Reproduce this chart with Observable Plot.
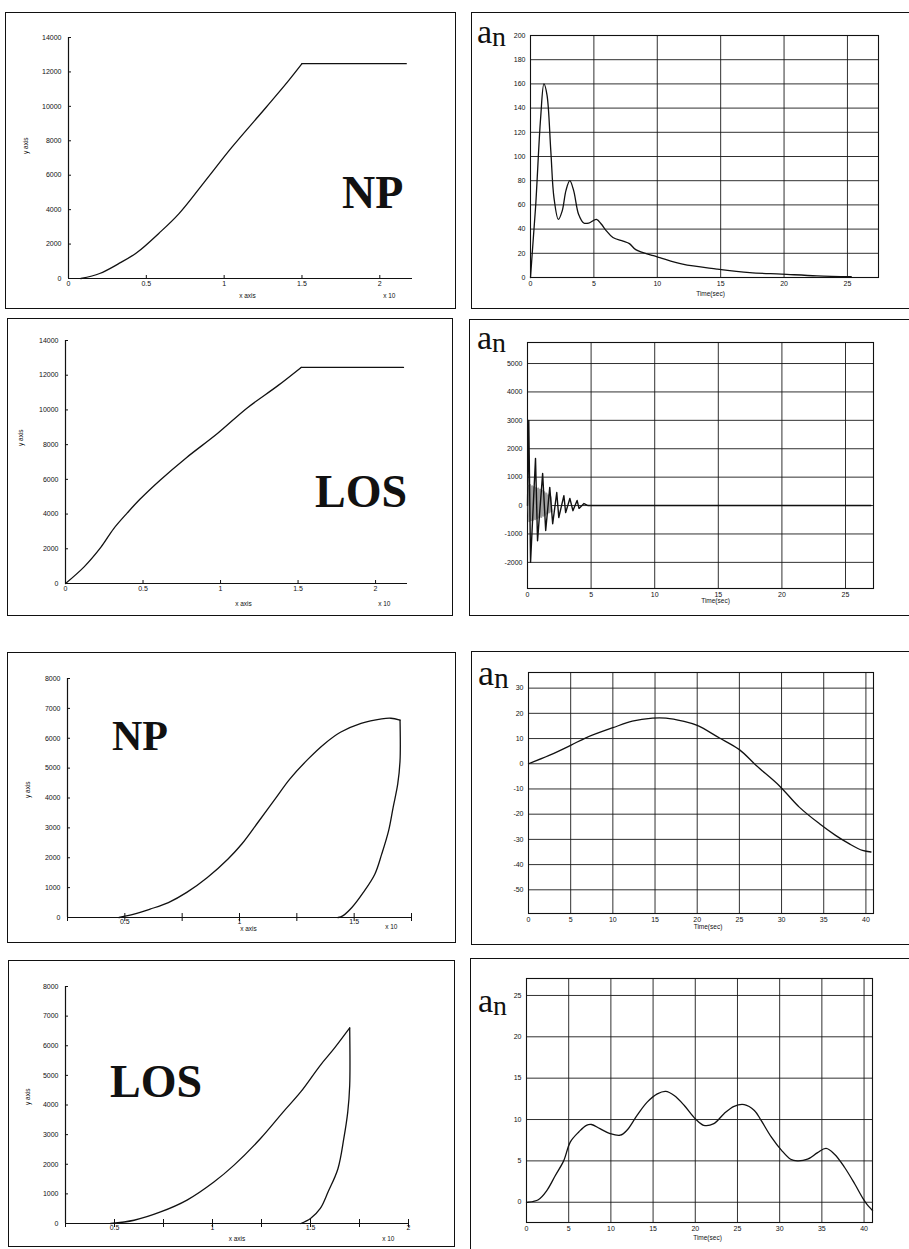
<!DOCTYPE html>
<html><head><meta charset="utf-8">
<script src="https://cdn.jsdelivr.net/npm/d3@7"></script>
<script src="https://cdn.jsdelivr.net/npm/@observablehq/plot@0.6"></script>
<style>
html,body{margin:0;padding:0;background:#fff;overflow:hidden;}
#page{position:relative;width:909px;height:1249px;overflow:hidden;background:#fff;}
.box{position:absolute;border:1.4px solid #111;box-sizing:border-box;pointer-events:none;}
.plot{position:absolute;}
.big{position:absolute;font-family:"Liberation Serif","Times New Roman",serif;font-weight:bold;color:#111;line-height:1;white-space:nowrap;}
.an{position:absolute;font-family:"Liberation Serif","Times New Roman",serif;color:#111;line-height:1;white-space:nowrap;}
.an span{font-size:0.82em;position:relative;top:3px;}
</style></head><body><div id="page"></div>
<script>
// ---------- Data ----------
// Panel 1: NP trajectory (x in 1e4, y) — climb, then level flight
const np1X = [0.08, 0.2, 0.32, 0.44, 0.58, 0.71, 0.88, 1.05, 1.27, 1.41, 1.50];
const np1Y = [0, 290, 850, 1510, 2620, 3770, 5690, 7630, 9950, 11450, 12480];
const np1LevelX = [1.50, 2.17];
const np1LevelY = [12480, 12480];
// Panel 3: LOS trajectory
const los1X = [0, 0.12, 0.23, 0.31, 0.40, 0.48, 0.61, 0.78, 0.98, 1.17, 1.37, 1.52];
const los1Y = [0, 960, 2110, 3150, 4080, 4850, 5950, 7250, 8640, 10100, 11400, 12450];
const los1LevelX = [1.52, 2.18];
const los1LevelY = [12450, 12450];
const trajYTicks = [0, 2000, 4000, 6000, 8000, 10000, 12000, 14000];
const trajXTicks = [0, 0.5, 1, 1.5, 2];
const trajXLabels = ["0", "0.5", "1", "1.5", "2"];

// Panel 2: NP normal acceleration vs time
const an1T = [0, 0.13, 0.4, 0.8, 1.06, 1.3, 1.6, 1.85, 2.2, 2.5, 2.8, 3.1, 3.4, 3.8, 4.2, 4.6, 5.2, 5.6, 5.95, 6.5, 7.3, 7.8, 8.3, 9.7, 10.2, 12, 14.7, 17.3, 19.8, 22.6, 25.3];
const an1V = [0, 19, 58, 132, 160, 151, 105, 66, 48, 55, 72, 80, 72, 52, 45, 45, 48, 44, 39, 33, 30, 28, 23, 18, 16.5, 11, 7, 4, 2.8, 1.4, 0.6];
const an1YTicks = [0, 20, 40, 60, 80, 100, 120, 140, 160, 180, 200];
const timeXTicks25 = [0, 5, 10, 15, 20, 25];

// Panel 4: LOS normal acceleration vs time
const an2T = [0, 0.1, 0.24, 0.63, 0.79, 1.19, 1.43, 1.75, 1.98, 2.3, 2.46, 2.86, 3.0, 3.33, 3.57, 3.9, 4.05, 4.44, 4.76, 27];
const an2V = [0, 3000, -2000, 1660, -1240, 1130, -880, 640, -640, 460, -420, 350, -250, 250, -180, 180, -100, 70, 0, 0];
const an2GreyT = [0.05, 0.13, 0.21, 0.29, 0.37, 0.45, 0.53, 0.61, 0.69, 0.77, 0.85, 0.93, 1.01, 1.09, 1.17, 1.25, 1.33, 1.41, 1.49, 1.57, 1.65, 1.73, 1.81, 1.89];
const an2GreyV = [700, -550, 720, -520, 680, -500, 650, -480, 620, -450, 600, -420, 560, -400, 520, -360, 470, -320, 420, -280, 360, -240, 300, -200];
const an2YTicks = [-2000, -1000, 0, 1000, 2000, 3000, 4000, 5000];

// Panel 5: NP loop trajectory
const np2ClimbX = [0.475, 0.54, 0.61, 0.69, 0.77, 0.86, 0.95, 1.01, 1.08, 1.15, 1.22, 1.30, 1.37, 1.44, 1.53, 1.62, 1.66, 1.70];
const np2ClimbY = [0, 110, 280, 500, 840, 1340, 1960, 2460, 3180, 3910, 4640, 5310, 5810, 6200, 6500, 6650, 6670, 6610];
const np2ReturnX = [1.70, 1.70, 1.69, 1.67, 1.65, 1.62, 1.59, 1.54, 1.49, 1.45, 1.43];
const np2ReturnY = [6610, 5250, 4470, 3690, 2900, 2120, 1450, 840, 335, 56, 0];
const np2XTicks = [0.25, 0.5, 0.75, 1, 1.25, 1.5, 1.75];
const np2XLabels = ["", "0.5", "", "1", "", "1.5", ""];

// Panel 7: LOS loop trajectory
const los2ClimbX = [0.48, 0.60, 0.735, 0.87, 1.007, 1.11, 1.245, 1.36, 1.45, 1.55, 1.62, 1.70];
const los2ClimbY = [0, 110, 390, 790, 1400, 1970, 2870, 3760, 4440, 5340, 5900, 6600];
const los2ReturnX = [1.70, 1.70, 1.69, 1.67, 1.64, 1.59, 1.55, 1.50, 1.45];
const los2ReturnY = [6600, 4660, 3760, 2870, 1850, 1070, 510, 170, 0];
const los2XTicks = [0.25, 0.5, 0.75, 1, 1.25, 1.5, 1.75, 2];
const los2XLabels = ["", "0.5", "", "1", "", "1.5", "", "2"];
const loopYTicks = [0, 1000, 2000, 3000, 4000, 5000, 6000, 7000, 8000];

// Panel 6: NP normal acceleration (second case)
const an3T = [0, 2.45, 5, 6.8, 10, 12.3, 14.7, 16.3, 18.3, 20, 22.6, 25, 27, 29.7, 32.1, 34.5, 36.4, 38, 39.6, 40.6];
const an3V = [0, 3.3, 7.3, 10.3, 14.3, 16.9, 18.1, 18.1, 16.9, 15.2, 10.3, 5.6, -0.7, -8.6, -17.2, -23.8, -28.4, -31.7, -34.4, -35];
const an3YTicks = [-50, -40, -30, -20, -10, 0, 10, 20, 30];
const timeXTicks40 = [0, 5, 10, 15, 20, 25, 30, 35, 40];

// Panel 8: LOS normal acceleration (second case)
const an4T = [0, 0.2, 1.4, 2.4, 3.4, 4.4, 5.2, 6.2, 7.1, 7.7, 8.7, 9.9, 11.1, 11.9, 13.1, 14.3, 15.5, 16.5, 17.5, 18.7, 20, 21, 22.2, 23.4, 24.6, 25.8, 27, 27.8, 29, 30.2, 31.3, 32.1, 33.3, 34.5, 35.5, 36.5, 37.7, 38.9, 39.9, 40.3, 41];
const an4V = [0, 0, 0.3, 1.4, 3.2, 5.0, 7.3, 8.5, 9.3, 9.4, 8.9, 8.3, 8.1, 8.7, 10.5, 12.1, 13.1, 13.4, 12.9, 11.7, 10.1, 9.3, 9.5, 10.7, 11.6, 11.8, 11.1, 9.9, 7.9, 6.3, 5.2, 5.0, 5.2, 6.0, 6.5, 5.8, 4.2, 2.2, 0.4, -0.2, -1.0];
const an4YTicks = [0, 5, 10, 15, 20, 25];

const xAxisTitle = "x axis", yAxisTitle = "y axis", scaleNote = "x 10", timeTitle = "Time(sec)";

// ---------- Helpers ----------
const page = document.getElementById("page");
const rows = (xs, ys) => xs.map((x, i) => ({x, y: ys[i]}));
const labelFmt = (ticks, labels) => d => labels[ticks.indexOf(d)] ?? "";
const INK = "#111";
const FONT = "'Liberation Sans', Arial, sans-serif";

function addPanel(box, m, xDomain, yDomain, marks) {
  const fig = Plot.plot({
    width: box.w, height: box.h,
    marginTop: m[0], marginRight: m[1], marginBottom: m[2], marginLeft: m[3],
    x: {domain: xDomain}, y: {domain: yDomain},
    style: {fontFamily: FONT, fontSize: "7px", color: INK, background: "transparent", overflow: "visible"},
    marks
  });
  fig.classList.add("plot");
  fig.style.left = box.l + "px"; fig.style.top = box.t + "px";
  page.appendChild(fig);
  const b = document.createElement("div");
  b.className = "box";
  Object.assign(b.style, {left: box.l + "px", top: box.t + "px", width: box.w + "px", height: box.h + "px"});
  page.appendChild(b);
}
function addText(cls, html, left, top, size) {
  const d = document.createElement("div");
  d.className = cls; d.innerHTML = html;
  Object.assign(d.style, {left: left + "px", top: top + "px", fontSize: size + "px"});
  page.appendChild(d);
}

function trajMarks(xDomain, yTicks, xTicks, xFmt, crossTicks, t) {
  const ms = [
    Plot.ruleX([xDomain[0]], {stroke: INK, strokeWidth: 1.2}),
    Plot.ruleY([0], {stroke: INK, strokeWidth: 1.2}),
    Plot.axisY(yTicks, {tickSize: -3, tickPadding: 10, tickFormat: String, label: null, stroke: INK}),
    Plot.axisX(xTicks, {tickSize: crossTicks ? 4 : -3, tickPadding: crossTicks ? -2 : 6, tickFormat: xFmt, label: null, stroke: INK})
  ];
  if (crossTicks) ms.push(Plot.axisX(xTicks, {tickSize: -4, tickFormat: () => "", label: null, stroke: INK}));
  ms.push(
    Plot.text([xAxisTitle], {frameAnchor: "bottom", dx: t.xa[0], dy: t.xa[1], text: d => d, fontSize: 6.5, fill: INK}),
    Plot.text([scaleNote], {frameAnchor: "bottom-right", dx: t.sn[0], dy: t.sn[1], text: d => d, fontSize: 6.5, fill: INK}),
    Plot.text([yAxisTitle], {frameAnchor: "left", dx: t.ya[0], dy: t.ya[1], rotate: -90, text: d => d, fontSize: 6.5, fill: INK})
  );
  return ms;
}
function gridMarks(xTicks, yTicks, tt) {
  return [
    Plot.ruleX(xTicks, {stroke: "#1a1a1a", strokeWidth: 0.9}),
    Plot.ruleY(yTicks, {stroke: "#1a1a1a", strokeWidth: 0.9}),
    Plot.frame({stroke: INK, strokeWidth: 1.1}),
    Plot.axisY(yTicks, {tickSize: 0, tickPadding: 5, tickFormat: String, label: null}),
    Plot.axisX(xTicks, {tickSize: 0, tickPadding: 4, tickFormat: String, label: null}),
    Plot.text([timeTitle], {frameAnchor: "bottom", dx: tt[0], dy: tt[1], text: d => d, fontSize: 6.5, fill: INK})
  ];
}
const lineStyle = {x: "x", y: "y", stroke: INK, strokeWidth: 1.3};
const smooth = {...lineStyle, curve: "catmull-rom"};

// ---------- Panel 1 ----------
addPanel({l: 5, t: 12, w: 451, h: 297}, [25, 44, 31, 63], [0, 2.21], [0, 14000], [
  ...trajMarks([0, 2.21], trajYTicks, trajXTicks, labelFmt(trajXTicks, trajXLabels), false,
    {xa: [7, 19], sn: [-17, 19], ya: [-43, -4]}),
  Plot.line(rows(np1X, np1Y), smooth),
  Plot.line(rows(np1LevelX, np1LevelY), lineStyle)
]);
// ---------- Panel 2 ----------
addPanel({l: 471, t: 12, w: 445, h: 297}, [23, 38, 32, 59], [0, 27.45], [0, 200], [
  ...gridMarks(timeXTicks25, an1YTicks, [6, 18]),
  Plot.line(rows(an1T, an1V), smooth)
]);
// ---------- Panel 3 ----------
addPanel({l: 7, t: 318, w: 446, h: 298}, [22, 46, 33, 58], [0, 2.206], [0, 14000], [
  ...trajMarks([0, 2.206], trajYTicks, trajXTicks, labelFmt(trajXTicks, trajXLabels), false,
    {xa: [7, 22], sn: [-17, 22], ya: [-45, -16]}),
  Plot.line(rows(los1X, los1Y), smooth),
  Plot.line(rows(los1LevelX, los1LevelY), lineStyle)
]);
// ---------- Panel 4 ----------
addPanel({l: 469, t: 319, w: 447, h: 297}, [23, 43, 28, 58], [0, 27.2], [-2920, 5740], [
  ...gridMarks(timeXTicks25, an2YTicks, [15, 14]),
  Plot.line(rows(an2GreyT, an2GreyV), {x: "x", y: "y", stroke: "#a0a0a0", strokeWidth: 2}),
  Plot.line(rows(an2T, an2V), {...lineStyle, strokeWidth: 1.4})
]);
// ---------- Panel 5 ----------
addPanel({l: 7, t: 652, w: 449, h: 291}, [26, 45, 26, 60], [0.25, 1.75], [0, 8000], [
  ...trajMarks([0.25, 1.75], loopYTicks, np2XTicks, labelFmt(np2XTicks, np2XLabels), true,
    {xa: [9, 13], sn: [-14, 11], ya: [-40, 0]}),
  Plot.line(rows(np2ClimbX, np2ClimbY), smooth),
  Plot.line(rows(np2ReturnX, np2ReturnY), smooth)
]);
// ---------- Panel 6 ----------
addPanel({l: 471, t: 651, w: 445, h: 294}, [21, 43, 32, 57], [0, 40.9], [-59.4, 36.2], [
  ...gridMarks(timeXTicks40, an3YTicks, [7, 15]),
  Plot.line(rows(an3T, an3V), smooth)
]);
// ---------- Panel 7 ----------
addPanel({l: 8, t: 960, w: 447, h: 287}, [26, 47, 24, 57], [0.25, 2.0], [0, 8000], [
  ...trajMarks([0.25, 2.0], loopYTicks, los2XTicks, labelFmt(los2XTicks, los2XLabels), true,
    {xa: [0, 17], sn: [-14, 17], ya: [-38, 0]}),
  Plot.line(rows(los2ClimbX, los2ClimbY), smooth),
  Plot.line(rows(los2ReturnX, los2ReturnY), smooth)
]);
// ---------- Panel 8 ----------
addPanel({l: 470, t: 958, w: 446, h: 292}, [20, 44, 28, 56], [0, 41], [-2.45, 27.05], [
  ...gridMarks(timeXTicks40, an4YTicks, [8, 17]),
  Plot.line(rows(an4T, an4V), smooth)
]);

// ---------- Annotations ----------
addText("big", "NP", 342, 170, 46);
addText("big", "LOS", 315, 469, 46);
addText("big", "NP", 112, 715, 42);
addText("big", "LOS", 110, 1059, 46);
addText("an", "a<span>n</span>", 477, 15, 34);
addText("an", "a<span>n</span>", 477, 321, 34);
addText("an", "a<span>n</span>", 478, 655, 36);
addText("an", "a<span>n</span>", 478, 984, 34);
</script></body></html>
